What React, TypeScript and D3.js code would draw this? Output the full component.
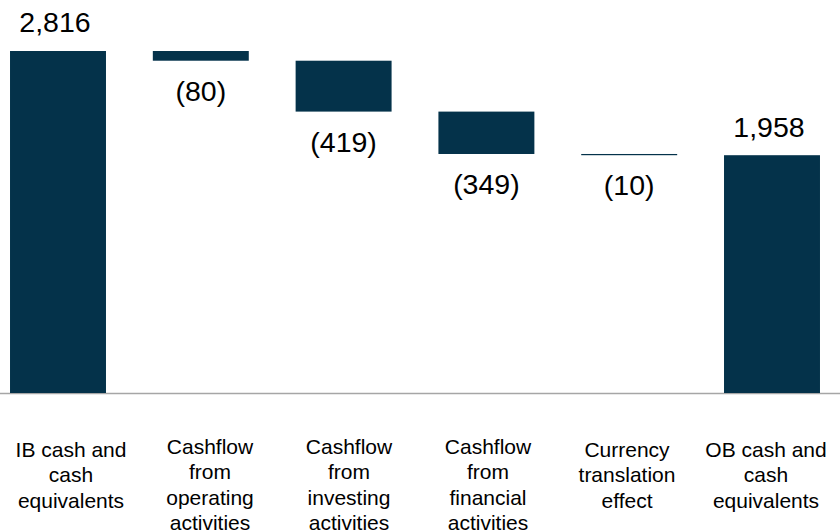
import { useEffect } from "react";
import * as d3 from "d3";

const categories = [
  ["IB cash and", "cash", "equivalents"],
  ["Cashflow", "from", "operating", "activities"],
  ["Cashflow", "from", "investing", "activities"],
  ["Cashflow", "from", "financial", "activities"],
  ["Currency", "translation", "effect"],
  ["OB cash and", "cash", "equivalents"],
];
const values = [2816, -80, -419, -349, -10, 1958];
const isTotal = [true, false, false, false, false, true];
const valueLabels = ["2,816", "(80)", "(419)", "(349)", "(10)", "1,958"];

const W = 840;
const H = 531;
const BAR = "#04324a";

const App = () => {
  useEffect(() => {
    document.body.style.margin = "0";
  }, []);

  const x = d3
    .scaleBand<number>()
    .domain(values.map((_, i) => i))
    .range([-13.4, 843.4])
    .paddingInner(0.328)
    .paddingOuter(0.164);

  // category text boxes sit on their own, slightly different grid
  const xLabel = d3
    .scaleBand<number>()
    .domain(values.map((_, i) => i))
    .range([1.5, 835.5]);

  const y = d3.scaleLinear().domain([0, 2816]).range([393, 51]);

  // running totals for the waterfall
  let run = 0;
  const steps = values.map((v, i) => {
    let from, to;
    if (isTotal[i]) {
      from = 0;
      to = v;
      run = v;
    } else {
      from = run;
      to = run + v;
      run = to;
    }
    return { i, from, to, v };
  });

  return (
    <svg width={W} height={H} style={{ display: "block" }} fontFamily="'Liberation Sans', Arial, sans-serif">
      <line x1={0} x2={W} y1={y(0) + 0.5} y2={y(0) + 0.5} stroke="#a6a6a6" strokeWidth={1.5} />
      {steps.map((s) => {
        const top = y(Math.max(s.from, s.to));
        const bot = y(Math.min(s.from, s.to));
        const cx = x(s.i)! + x.bandwidth() / 2;
        const lx = xLabel(s.i)! + xLabel.bandwidth() / 2;
        const neg = s.v < 0;
        const lines = categories[s.i];
        const firstY = lines.length > 3 ? 453.5 : 456.5;
        return (
          <g key={s.i}>
            <rect x={x(s.i)} y={top} width={x.bandwidth()} height={Math.max(bot - top, 1.2)} fill={BAR} />
            <text
              x={neg ? cx : cx - 3}
              y={neg ? bot + 40 : top - 18.7}
              textAnchor="middle"
              fontSize={28.5}
              fill="#000"
            >
              {valueLabels[s.i]}
            </text>
            <text textAnchor="middle" fontSize={21} fill="#000">
              {lines.map((line, k) => (
                <tspan key={k} x={lx} y={firstY + k * 25.5}>
                  {line}
                </tspan>
              ))}
            </text>
          </g>
        );
      })}
    </svg>
  );
};

export default App;
